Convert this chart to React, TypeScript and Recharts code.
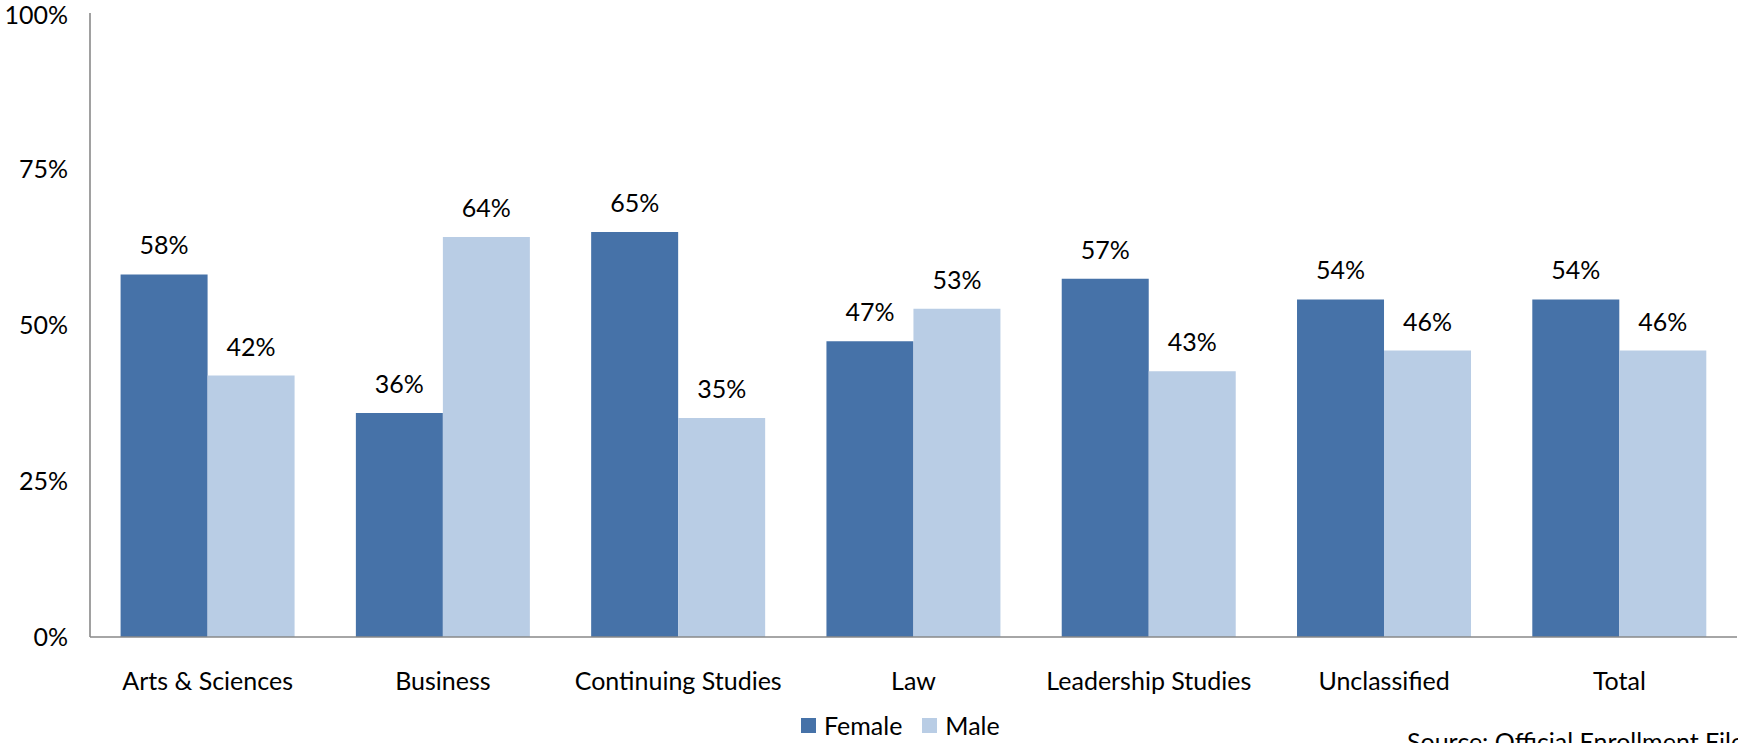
import React from "react";
import { BarChart, Bar, XAxis, YAxis, Legend, LabelList } from "recharts";

const categories = ["Arts & Sciences", "Business", "Continuing Studies", "Law", "Leadership Studies", "Unclassified", "Total"];
const femaleValues = [58.1, 35.9, 64.9, 47.4, 57.4, 54.1, 54.1];
const maleValues = [41.9, 64.1, 35.1, 52.6, 42.6, 45.9, 45.9];
const yTicks = [0, 25, 50, 75, 100];
const seriesNames = ["Female", "Male"];
const sourceNote = "Source: Official Enrollment Files";

const FEMALE = "#4672A8";
const MALE = "#B9CDE5";
const AXIS = "#898989";
const FONT = "Lato, 'Open Sans', sans-serif";
const FS = 25;

const data = categories.map((c, i) => ({ name: c, female: femaleValues[i], male: maleValues[i] }));

const pct = (v: any) => `${Math.round(Number(v))}%`;

const LegendContent = () => (
  <div style={{ display: "flex", alignItems: "center", fontFamily: FONT, fontSize: FS, color: "#000", lineHeight: "28px" }}>
    {seriesNames.map((n, i) => (
      <div key={n} style={{ display: "flex", alignItems: "center", marginRight: 20 }}>
        <span style={{ display: "inline-block", width: 15, height: 15, background: i === 0 ? FEMALE : MALE, marginRight: 8 }} />
        <span>{n}</span>
      </div>
    ))}
  </div>
);

export default function App() {
  return (
    <div style={{ position: "absolute", left: 0, top: 0, width: 1738, height: 743, overflow: "hidden", background: "#fff" }}>
      <BarChart
        width={1738}
        height={743}
        data={data}
        margin={{ top: 13, right: 1, left: 0, bottom: 0 }}
        barCategoryGap="13%"
        barGap={0}
      >
        <XAxis
          dataKey="name"
          axisLine={{ stroke: AXIS, strokeWidth: 1.6 }}
          tickLine={false}
          tickSize={6}
          tickMargin={29}
          height={106}
          interval={0}
          tick={{ fill: "#000", fontSize: FS, fontFamily: FONT }}
        />
        <YAxis
          domain={[0, 100]}
          ticks={yTicks}
          width={90}
          axisLine={{ stroke: AXIS, strokeWidth: 1.6 }}
          tickLine={false}
          tickSize={6}
          tickMargin={16}
          tickFormatter={(v: number) => `${v}%`}
          tick={{ fill: "#000", fontSize: FS, fontFamily: FONT }}
        />
        <Legend
          layout="horizontal"
          verticalAlign="middle"
          align="center"
          content={<LegendContent />}
          wrapperStyle={{ position: "absolute", top: 711, left: 801, width: "auto" }}
        />
        <Bar dataKey="female" name="Female" fill={FEMALE} isAnimationActive={false}>
          <LabelList dataKey="female" position="top" offset={20} formatter={pct} style={{ fill: "#000", fontSize: FS, fontFamily: FONT }} />
        </Bar>
        <Bar dataKey="male" name="Male" fill={MALE} isAnimationActive={false}>
          <LabelList dataKey="male" position="top" offset={20} formatter={pct} style={{ fill: "#000", fontSize: FS, fontFamily: FONT }} />
        </Bar>
      </BarChart>
      <div style={{ position: "absolute", left: 1407, top: 726, fontFamily: FONT, fontSize: FS, color: "#000", whiteSpace: "nowrap" }}>
        {sourceNote}
      </div>
    </div>
  );
}
